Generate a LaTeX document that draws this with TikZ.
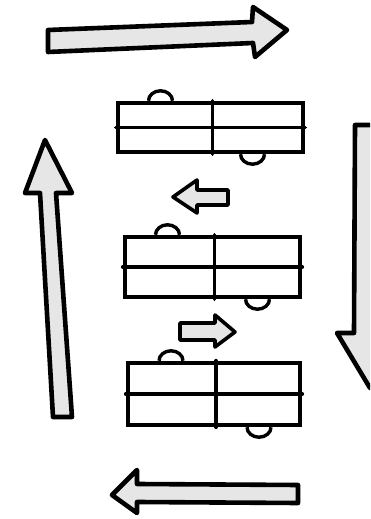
\documentclass[tikz,border=0pt]{standalone}
\usepackage{tikz}
\usetikzlibrary{positioning}
\definecolor{arrowgray}{HTML}{E6E6E6}
\begin{document}
\begin{tikzpicture}[
    x=1pt, y=1pt,
    cell/.style={
        rectangle, draw=black, line width=4.4pt,
        inner sep=0pt
    },
    divider/.style={line width=3.8pt, line cap=round},
    bump/.style={line width=3.4pt},
    bigarrow/.style={draw=black, fill=arrowgray, line width=4.6pt, line join=round},
    smallarrow/.style={draw=black, fill=arrowgray, line width=3.6pt, line join=round}
]
\useasboundingbox (0,0) rectangle (370,519);
\clip (0,0) rectangle (370,519);

% three blocks
\node[cell, minimum width=185pt, minimum height=49pt] (block1) at (210.5,391.5) {};
\node[cell, minimum width=175pt, minimum height=60pt] (block2) at (212.5,252) {};
\node[cell, minimum width=172pt, minimum height=62pt] (block3) at (214,125) {};

\foreach \b/\t/\s in {block1/-62/30, block2/-57/33, block3/-55/33} {
  \draw[divider] (\b.west) -- (\b.east);
  \draw[divider] ([xshift=2]\b.north) -- ([xshift=2]\b.south);
  \draw[bump] ([xshift=\t]\b.north) arc[start angle=180, end angle=0, x radius=12, y radius=10];
  \draw[bump] ([xshift=\s]\b.south) arc[start angle=180, end angle=360, x radius=12, y radius=10];
}

% big arrows round the outside
\draw[bigarrow] (48,489) -- (252,497) -- (253,512) -- (287,489)
    -- (255,462) -- (253,476) -- (48,467) -- cycle;
\draw[bigarrow] (355,394) -- (354,186) -- (337,186) -- (370,131)
    -- (403,186) -- (378,186) -- (378,394) -- cycle;
\draw[bigarrow] (298,34) -- (137,35) -- (137,49) -- (112,24)
    -- (137,6) -- (137,17) -- (298,16) -- cycle;
\draw[bigarrow] (53,102) -- (40,326) -- (25,326) -- (45,379)
    -- (72,326) -- (56,326) -- (72,102) -- cycle;

% small arrows between blocks
\draw[smallarrow] (228,329) -- (197,329) -- (197,339) -- (173,322)
    -- (197,306) -- (197,314) -- (228,314) -- cycle;
\draw[smallarrow] (180,196) -- (215,196) -- (215,204) -- (235,187)
    -- (215,172) -- (215,179) -- (180,179) -- cycle;
\end{tikzpicture}
\end{document}
